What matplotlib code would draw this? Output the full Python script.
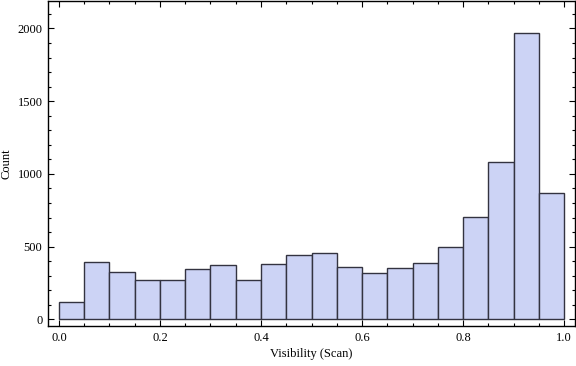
import numpy as np
import matplotlib
matplotlib.use("Agg")
import matplotlib.pyplot as plt
from matplotlib.ticker import MultipleLocator

# histogram: 20 bins of width 0.05 over [0, 1]
bin_edges = [0.0, 0.05, 0.1, 0.15, 0.2, 0.25, 0.3, 0.35, 0.4, 0.45, 0.5,
             0.55, 0.6, 0.65, 0.7, 0.75, 0.8, 0.85, 0.9, 0.95, 1.0]
counts = [117, 392, 323, 268, 268, 344, 371, 268, 380, 440,
          454, 357, 316, 350, 385, 495, 701, 1079, 1966, 868]

plt.rcParams['font.family'] = ['Liberation Serif', 'DejaVu Serif']

fig = plt.figure(figsize=(5.76, 3.66), dpi=100)
ax = fig.add_axes([0.0833, 0.109, 0.915, 0.888])

ax.hist(bin_edges[:-1], bins=bin_edges, weights=counts,
        color='#ccd3f5', edgecolor='#333340', linewidth=1.0)

ax.set_xlim(-0.0218, 1.0218)
ax.set_ylim(-46, 2188)

ax.xaxis.set_major_locator(MultipleLocator(0.2))
ax.xaxis.set_minor_locator(MultipleLocator(0.05))
ax.yaxis.set_major_locator(MultipleLocator(500))
ax.yaxis.set_minor_locator(MultipleLocator(100))
ax.xaxis.set_major_formatter(plt.FuncFormatter(lambda v, p: f"{v:.1f}"))

ax.tick_params(which='both', direction='in', top=True, right=True,
               labelsize=9, width=0.8, colors='black')
ax.tick_params(which='major', length=4)
ax.tick_params(which='minor', length=2.2)
ax.tick_params(axis='y', pad=4)
ax.tick_params(axis='x', pad=4)

for s in ax.spines.values():
    s.set_linewidth(1.0)

ax.set_xlabel("Visibility (Scan)", fontsize=9)
ax.set_ylabel("Count", fontsize=9)
ax.xaxis.set_label_coords(0.5, -0.068)
ax.yaxis.set_label_coords(-0.068, 0.5)

fig.savefig("out.png", dpi=100)
